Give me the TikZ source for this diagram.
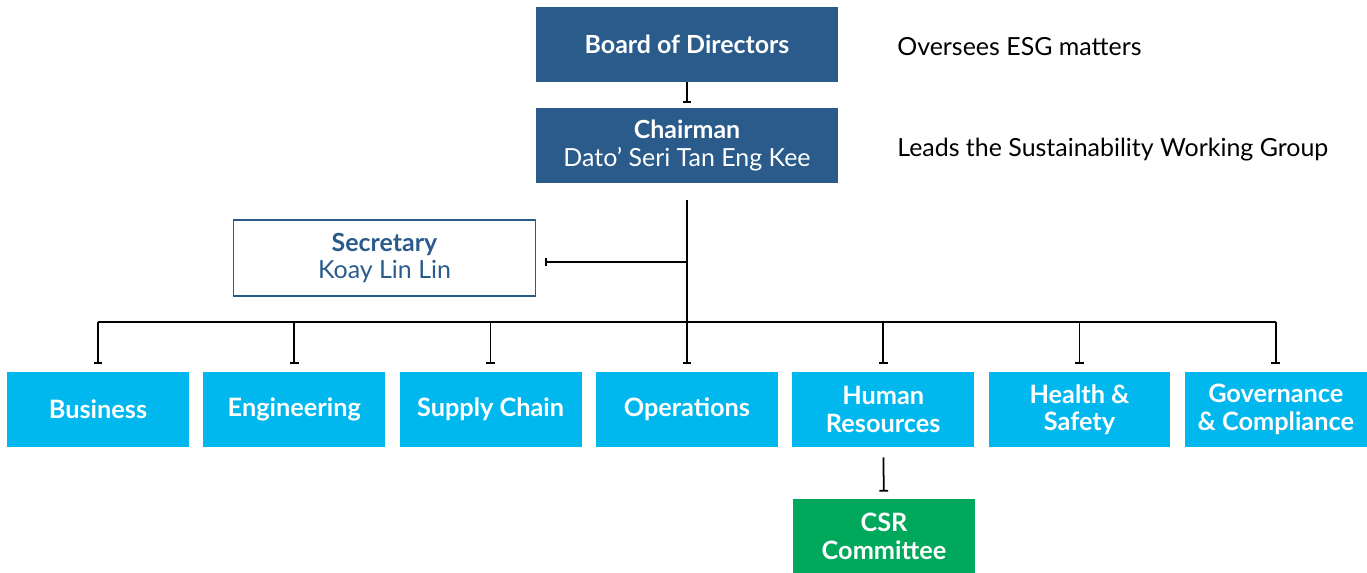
\documentclass[tikz,border=0pt]{standalone}
\usepackage{fontspec}
\setmainfont{Lato}
\usetikzlibrary{arrows.meta}

\definecolor{board}{HTML}{2A5B8A}
\definecolor{dept}{HTML}{00B8EE}
\definecolor{csr}{HTML}{00A85B}

\begin{document}
\begin{tikzpicture}[x=0.02cm,y=-0.02cm,
    every node/.style={font=\fontsize{14.2}{15.8}\selectfont,align=center,inner sep=0pt},
    lead/.style={fill=board,text=white,minimum width=6.04cm,minimum height=1.5cm},
    unit/.style={fill=dept,text=white,font=\fontsize{14.4}{15.6}\selectfont\bfseries,minimum width=3.64cm,minimum height=1.5cm},
    link/.style={line width=1pt,black},
    tee/.style={-{Bar[width=5pt,line width=1pt]},shorten >=0.16cm}]
    \useasboundingbox (0,0) rectangle (1367,573);
    \node[lead] (board) at (687,44.5) {\textbf{Board of Directors}};
    \node[lead] (chair) at (687,145.5) {\textbf{Chairman}\\Dato’ Seri Tan Eng Kee};
    \node[draw=board,line width=.8pt,text=board,minimum width=6.04cm,minimum height=1.52cm]
        (sec) at (384.5,258) {\textbf{Secretary}\\Koay Lin Lin};
    \node[anchor=west] (esg) at (897,47) {Oversees ESG matters};
    \node[anchor=west] (swg) at (897,150) {Leads the Sustainability Working Group};
    % departments
    \foreach \name [count=\i] in {Business,Engineering,Supply Chain,Operations,
        Human\\Resources,Health \&\\Safety,Governance\\\& Compliance}
        \node[unit] (d\i) at ({98+196.3*(\i-1)},409.5) {\name};
    \node[unit,fill=csr] (csr) at (884,536.5) {CSR\\Committee};
    % connectors
    \coordinate (fork) at (687,322);
    \coordinate (sec-in) at ([yshift=-0.08cm]sec.east);
    \draw[link,tee,shorten >=0.1cm] (board) -- (chair);
    \draw[link,shorten <=0.34cm] (chair.south) -- (fork);
    \draw[link,tee,shorten >=0.18cm] (chair.south |- sec-in) -- (sec-in);
    \draw[link] (d1.north |- fork) -- (d7.north |- fork);
    \foreach \i in {1,...,7}
        \draw[link,tee] (d\i.north |- fork) -- (d\i.north);
    \draw[link,tee,shorten <=0.2cm,shorten >=0.14cm] (d5) -- (csr);
\end{tikzpicture}
\end{document}
